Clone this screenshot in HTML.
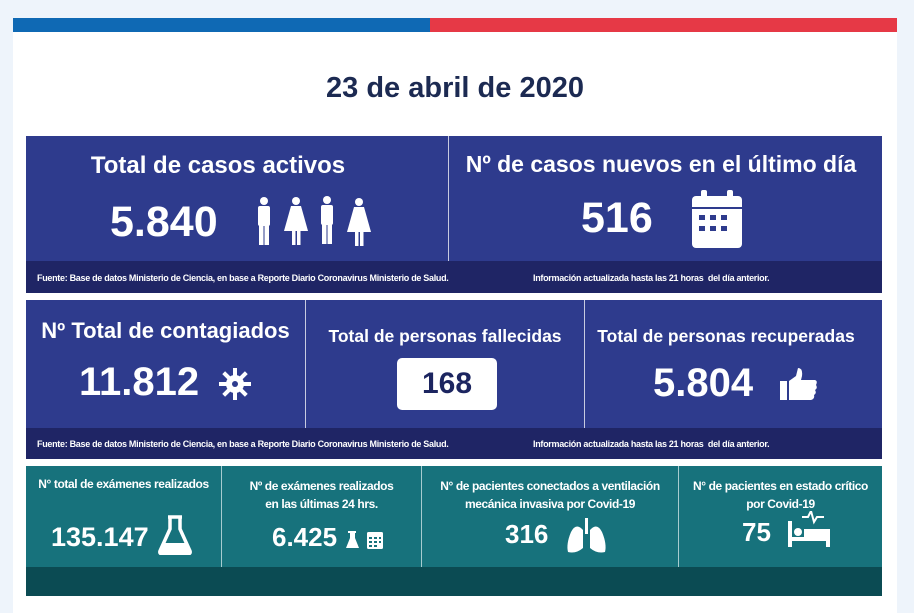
<!DOCTYPE html>
<html><head><meta charset="utf-8"><style>
*{margin:0;padding:0;box-sizing:border-box}
body{width:914px;height:613px;background:#eef4fb;position:relative;overflow:hidden;font-family:"Liberation Sans",sans-serif;font-weight:bold;color:#fff}
.a{position:absolute}
.c{text-align:center;white-space:nowrap}
.ft{font-size:9px;font-weight:bold;letter-spacing:-0.3px;white-space:nowrap}
</style></head><body>
<div class="a" style="left:13px;top:18px;width:884px;height:595px;background:#fff"></div>
<div class="a" style="left:13px;top:18px;width:417px;height:14px;background:#0f69b4"></div>
<div class="a" style="left:430px;top:18px;width:467px;height:14px;background:#e63946"></div>
<div class="a c" style="left:13px;width:884px;top:72px;font-size:29px;color:#1c2a52">23 de abril de 2020</div>

<!-- panel 1 -->
<div class="a" style="left:26px;top:136px;width:856px;height:125px;background:#2e3b8d"></div>
<div class="a" style="left:448px;top:136px;width:1px;height:125px;background:#c8cbe0"></div>
<div class="a" style="left:26px;top:261px;width:856px;height:32px;background:#1f2565"></div>
<div class="a c" style="left:26px;width:384px;top:152px;font-size:24px">Total de casos activos</div>
<div class="a" style="left:110px;top:198px;font-size:43px">5.840</div>
<svg class="a" style="left:250px;top:195px" width="130" height="55" viewBox="0 0 130 55">
<g fill="#fff">
<circle cx="14" cy="6" r="4"/><rect x="8" y="11" width="12" height="20" rx="2"/><rect x="9" y="28" width="4.5" height="22"/><rect x="14.5" y="28" width="4.5" height="22"/>
<circle cx="46" cy="6" r="4"/><polygon points="41,11 51,11 58,36 34,36"/><rect x="42" y="34" width="3.5" height="16"/><rect x="47" y="34" width="3.5" height="16"/>
<circle cx="77" cy="5" r="4"/><rect x="71" y="10" width="12" height="20" rx="2"/><rect x="72" y="27" width="4.5" height="22"/><rect x="77.5" y="27" width="4.5" height="22"/>
<circle cx="109" cy="7" r="4"/><polygon points="104,12 114,12 121,37 97,37"/><rect x="105" y="35" width="3.5" height="16"/><rect x="110" y="35" width="3.5" height="16"/>
</g></svg>
<div class="a c" style="left:449px;width:424px;top:151px;font-size:23px">Nº de casos nuevos en el último día</div>
<div class="a" style="left:581px;top:194px;font-size:43px">516</div>
<svg class="a" style="left:692px;top:190px" width="50" height="58" viewBox="0 0 50 58">
<rect x="9" y="0" width="6" height="12" rx="2" fill="#fff"/><rect x="35" y="0" width="6" height="12" rx="2" fill="#fff"/>
<rect x="0" y="6" width="50" height="52" rx="4" fill="#fff"/><rect x="0" y="17" width="50" height="2" fill="#2e3b8d"/>
<g fill="#2e3b8d"><rect x="7" y="25" width="6" height="5"/><rect x="18" y="25" width="6" height="5"/><rect x="29" y="25" width="6" height="5"/><rect x="7" y="36" width="6" height="5"/><rect x="18" y="36" width="6" height="5"/><rect x="29" y="36" width="6" height="5"/></g></svg>
<div class="a ft" style="left:37px;top:273px">Fuente: Base de datos Ministerio de Ciencia, en base a Reporte Diario Coronavirus Ministerio de Salud.</div>
<div class="a ft" style="left:533px;top:273px">Información actualizada hasta las 21 horas &nbsp;del día anterior.</div>

<!-- panel 2 -->
<div class="a" style="left:26px;top:300px;width:856px;height:128px;background:#2e3b8d"></div>
<div class="a" style="left:305px;top:300px;width:1px;height:128px;background:#c8cbe0"></div>
<div class="a" style="left:584px;top:300px;width:1px;height:128px;background:#c8cbe0"></div>
<div class="a" style="left:26px;top:428px;width:856px;height:31px;background:#1f2565"></div>
<div class="a c" style="left:26px;width:279px;top:318px;font-size:22px">Nº Total de contagiados</div>
<div class="a" style="left:79px;top:360px;font-size:40px">11.812</div>
<svg class="a" style="left:218px;top:367px" width="34" height="34" viewBox="-17 -17 34 34"><g fill="#fff"><circle r="9"/><g id="sp"><rect x="-2" y="-16" width="4" height="8"/><rect x="-2" y="8" width="4" height="8"/></g><use href="#sp" transform="rotate(45)"/><use href="#sp" transform="rotate(90)"/><use href="#sp" transform="rotate(135)"/></g><circle r="3" fill="#2e3b8d"/></svg>
<div class="a c" style="left:306px;width:278px;top:326px;font-size:17.5px">Total de personas fallecidas</div>
<div class="a" style="left:397px;top:358px;width:100px;height:52px;background:#fff;border-radius:5px"></div>
<div class="a c" style="left:397px;width:100px;top:367px;font-size:30px;color:#1c2560">168</div>
<div class="a c" style="left:585px;width:282px;top:326px;font-size:17.5px">Total de personas recuperadas</div>
<div class="a" style="left:653px;top:361px;font-size:40px">5.804</div>
<svg class="a" style="left:780px;top:368px" width="38" height="32" viewBox="0 0 38 32"><g fill="#fff"><rect x="0" y="13" width="7" height="19"/><path d="M9 13 L16 8 L18 0 Q23 0 22 8 L21 12 L35 12 Q38 13 36 17 Q38 20 35 22 Q37 25 34 27 Q35 31 31 32 L9 32 Z"/></g></svg>
<div class="a ft" style="left:37px;top:439px">Fuente: Base de datos Ministerio de Ciencia, en base a Reporte Diario Coronavirus Ministerio de Salud.</div>
<div class="a ft" style="left:533px;top:439px">Información actualizada hasta las 21 horas &nbsp;del día anterior.</div>

<!-- panel 3 -->
<div class="a" style="left:26px;top:466px;width:856px;height:101px;background:#17727c"></div>
<div class="a" style="left:221px;top:466px;width:1px;height:101px;background:#a8ccd0"></div>
<div class="a" style="left:421px;top:466px;width:1px;height:101px;background:#a8ccd0"></div>
<div class="a" style="left:678px;top:466px;width:1px;height:101px;background:#a8ccd0"></div>
<div class="a" style="left:26px;top:567px;width:856px;height:29px;background:#0b4b53"></div>
<div class="a c" style="left:26px;width:195px;top:477px;font-size:12px;letter-spacing:-0.4px">N° total de exámenes realizados</div>
<div class="a c" style="left:222px;width:199px;top:477px;font-size:12px;line-height:18px;letter-spacing:-0.4px">Nº de exámenes realizados<br>en las últimas 24 hrs.</div>
<div class="a c" style="left:422px;width:256px;top:477px;font-size:12px;line-height:18px;letter-spacing:-0.4px">N° de pacientes conectados a ventilación<br>mecánica invasiva por Covid-19</div>
<div class="a c" style="left:679px;width:203px;top:477px;font-size:12px;line-height:18px;letter-spacing:-0.4px">N° de pacientes en estado crítico<br>por Covid-19</div>
<div class="a" style="left:51px;top:522px;font-size:27px">135.147</div>
<svg class="a" style="left:158px;top:515px" width="34" height="40" viewBox="0 0 34 40"><path d="M10 2 H24 M12 2 V14 L2 36 Q1 39 5 39 H29 Q33 39 32 36 L22 14 V2" fill="none" stroke="#fff" stroke-width="3.5"/><path d="M6 28 H28 L31 36 Q32 38 29 38 H5 Q2 38 3 36 Z" fill="#fff"/></svg>
<div class="a" style="left:272px;top:522px;font-size:26px">6.425</div>
<svg class="a" style="left:346px;top:530px" width="38" height="20" viewBox="0 0 38 20"><g fill="#fff"><path d="M2 1 H10 V3 H9 V8 L13 18 H0 L4 8 V3 H2 Z"/><rect x="21" y="2" width="16" height="17" rx="1.5"/></g><g fill="#17727c"><rect x="23" y="7" width="3" height="2"/><rect x="28" y="7" width="3" height="2"/><rect x="33" y="7" width="2" height="2"/><rect x="23" y="11" width="3" height="2"/><rect x="28" y="11" width="3" height="2"/><rect x="33" y="11" width="2" height="2"/><rect x="23" y="15" width="3" height="2"/><rect x="28" y="15" width="3" height="2"/></g></svg>
<div class="a" style="left:505px;top:519px;font-size:26px">316</div>
<svg class="a" style="left:566px;top:518px" width="42" height="36" viewBox="0 0 42 36"><g fill="#fff"><rect x="19" y="0" width="3" height="16"/><path d="M17 12 Q10 4 5 14 Q0 26 2 34 Q10 36 17 30 Z"/><path d="M24 12 Q31 4 36 14 Q41 26 39 34 Q31 36 24 30 Z"/></g></svg>
<div class="a" style="left:742px;top:517px;font-size:26px">75</div>
<svg class="a" style="left:788px;top:511px" width="42" height="36" viewBox="0 0 42 36"><g fill="#fff"><rect x="0" y="10" width="4" height="26"/><rect x="4" y="26" width="38" height="4"/><rect x="38" y="18" width="4" height="18"/><rect x="16" y="18" width="24" height="8"/><circle cx="10" cy="21" r="4"/></g><path d="M14 6 H20 L23 0 L26 11 L29 6 H36" fill="none" stroke="#fff" stroke-width="2"/></svg>
</body></html>
